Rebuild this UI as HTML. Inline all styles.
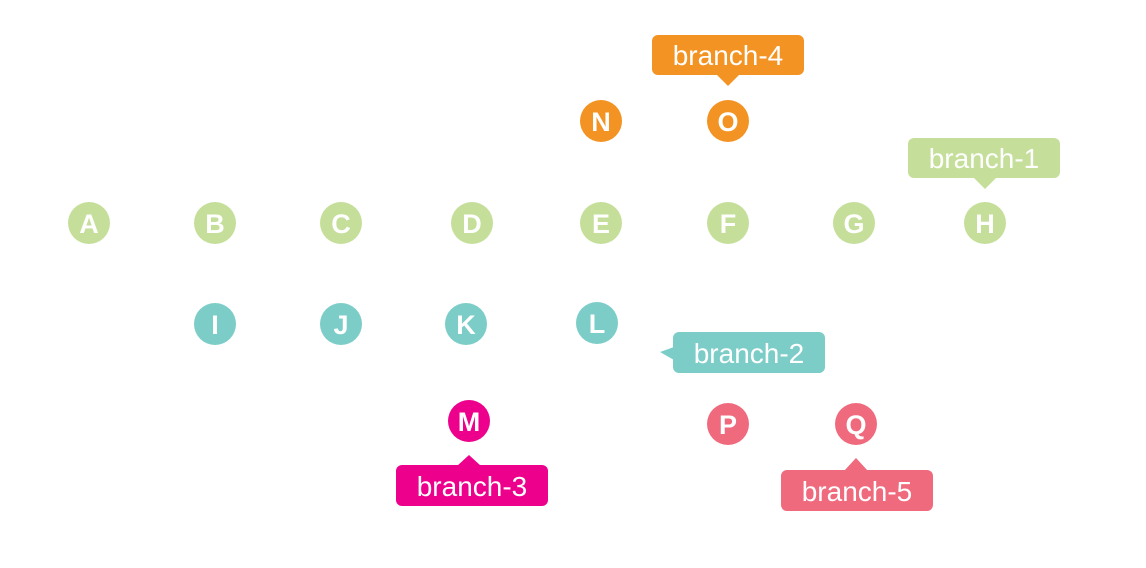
<!DOCTYPE html>
<html><head><style>body{margin:0;background:#fff}</style></head><body>
<svg width="1146" height="563" xmlns="http://www.w3.org/2000/svg" font-family="Liberation Sans, sans-serif">
<g font-weight="bold" font-size="27" fill="#fff" text-anchor="middle">
<g fill="#c5df9b">
<circle cx="89" cy="223" r="21"/><circle cx="215" cy="223" r="21"/><circle cx="341" cy="223" r="21"/><circle cx="472" cy="223" r="21"/><circle cx="601" cy="223" r="21"/><circle cx="728" cy="223" r="21"/><circle cx="854" cy="223" r="21"/><circle cx="985" cy="223" r="21"/></g>
<g fill="#7ccdc8"><circle cx="215" cy="324" r="21"/><circle cx="341" cy="324" r="21"/><circle cx="466" cy="324" r="21"/><circle cx="597" cy="323" r="21"/></g>
<g fill="#f39323"><circle cx="601" cy="121" r="21"/><circle cx="728" cy="121" r="21"/></g>
<circle cx="469" cy="421" r="21" fill="#ec008c"/>
<g fill="#f06a7e"><circle cx="728" cy="424" r="21"/><circle cx="856" cy="424" r="21"/></g>
<text x="89" y="233">A</text><text x="215" y="233">B</text><text x="341" y="233">C</text><text x="472" y="233">D</text><text x="601" y="233">E</text><text x="728" y="233">F</text><text x="854" y="233">G</text><text x="985" y="233">H</text>
<text x="215" y="334">I</text><text x="341" y="334">J</text><text x="466" y="334">K</text><text x="597" y="333">L</text>
<text x="601" y="131">N</text><text x="728" y="131">O</text><text x="469" y="431">M</text><text x="728" y="434">P</text><text x="856" y="434">Q</text>
</g>
<g font-size="28" fill="#fff" text-anchor="middle">
<rect x="652" y="35" width="152" height="40" rx="6" fill="#f39323"/><path d="M716 74 L728 86 L740 74Z" fill="#f39323"/><text x="728" y="65">branch-4</text>
<rect x="908" y="138" width="152" height="40" rx="6" fill="#c5df9b"/><path d="M973 177 L985 189 L997 177Z" fill="#c5df9b"/><text x="984" y="168">branch-1</text>
<rect x="673" y="332" width="152" height="41" rx="6" fill="#7ccdc8"/><path d="M674 347 L660 352 L674 360Z" fill="#7ccdc8"/><text x="749" y="363">branch-2</text>
<rect x="396" y="465" width="152" height="41" rx="6" fill="#ec008c"/><path d="M457 466 L469 455 L481 466Z" fill="#ec008c"/><text x="472" y="496">branch-3</text>
<rect x="781" y="470" width="152" height="41" rx="6" fill="#f06a7e"/><path d="M844 471 L856 458 L868 471Z" fill="#f06a7e"/><text x="857" y="501">branch-5</text>
</g>
</svg>
</body></html>
